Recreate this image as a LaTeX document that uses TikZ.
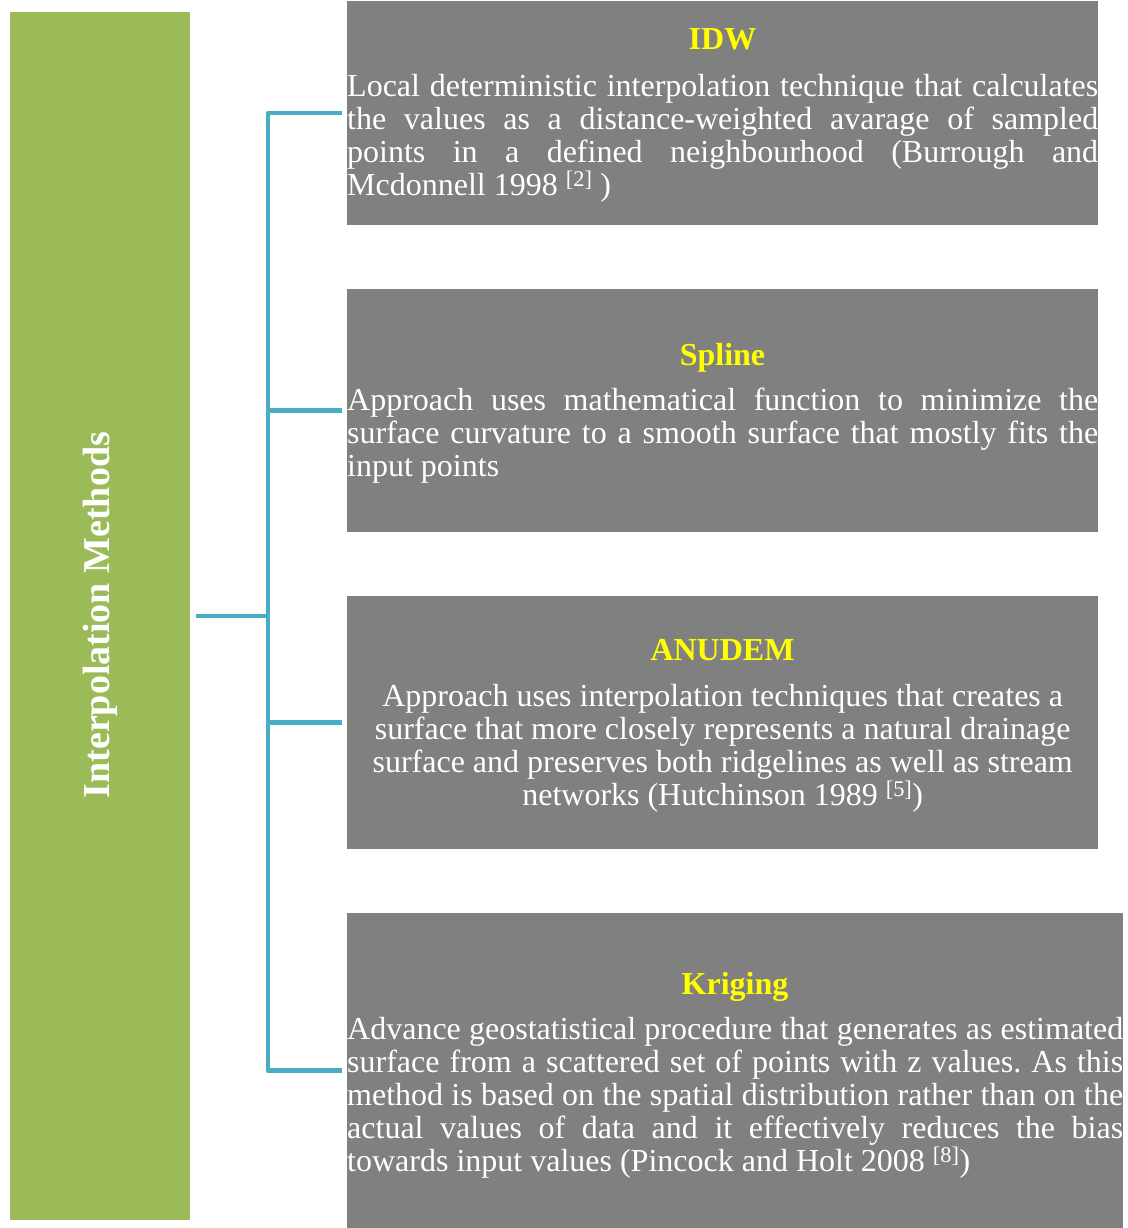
\documentclass[tikz,border=0pt]{standalone}
\usepackage{fontspec}
\setmainfont{Liberation Serif}
\frenchspacing
\definecolor{mgreen}{HTML}{9BBB59}
\definecolor{mteal}{HTML}{4BACC6}
\definecolor{mgray}{HTML}{808080}
\definecolor{myellow}{HTML}{FFFF00}
% justified full line / natural line (font interword glue)
\newcommand\jl[1]{\makebox[\hsize][s]{\frenchspacing\spaceskip=0pt\xspaceskip=0pt\relax #1}\\}
\newcommand\nl[1]{\mbox{\frenchspacing\spaceskip=0pt\xspaceskip=0pt\relax #1}}
\tikzset{
  graybox/.style={fill=mgray, draw=none, inner sep=0pt, anchor=north west},
  ttl/.style={text=myellow, font=\fontsize{32}{34}\selectfont\bfseries, inner sep=0pt, anchor=base},
  body/.style={text=white, font=\fontsize{32}{33}\selectfont, inner sep=0pt, anchor=north west, align=left},
  conn/.style={draw=mteal, line width=4.5pt, line join=round, line cap=butt},
}
\begin{document}
\begin{tikzpicture}[x=1pt,y=-1pt]
\useasboundingbox[fill=white] (0,0) rectangle (1127,1228);
% left green box
\node[fill=mgreen, inner sep=0pt, minimum width=180pt, minimum height=1208pt, anchor=north west] (main) at (10,12) {};
\node[rotate=90, text=white, font=\fontsize{38}{40}\selectfont\bfseries, inner sep=0pt] (mainlabel) at ([yshift=1pt]main.center) {\nl{Interpolation Methods}};
% gray boxes
\node[graybox, minimum width=751pt, minimum height=224pt] (b1) at (347,1) {};
\node[graybox, minimum width=751pt, minimum height=243pt] (b2) at (347,289) {};
\node[graybox, minimum width=751pt, minimum height=253pt] (b3) at (347,596) {};
\node[graybox, minimum width=776pt, minimum height=315pt] (b4) at (347,913) {};
% titles
\node[ttl] (t1) at (722.5,50) {IDW};
\node[ttl] (t2) at (722.5,365) {Spline};
\node[ttl] (t3) at (722.5,660) {ANUDEM};
\node[ttl] (t4) at (735,994) {Kriging};
% texts
\node[body, text width=751pt] (p1) at (347,72.9) {\strut\jl{Local deterministic interpolation technique that calculates}\jl{the values as a distance-weighted avarage of sampled}\jl{points in a defined neighbourhood (Burrough and}\nl{Mcdonnell 1998 \textsuperscript{[2]} )}};
\node[body, text width=751pt] (p2) at (347,386.9) {\strut\jl{Approach uses mathematical function to minimize the}\jl{surface curvature to a smooth surface that mostly fits the}\nl{input points}};
\node[body, text width=751pt, align=center] (p3) at (347,682.9) {\strut\nl{Approach uses interpolation techniques that creates a}\\\nl{surface that more closely represents a natural drainage}\\\nl{surface and preserves both ridgelines as well as stream}\\\nl{networks (Hutchinson 1989 \textsuperscript{[5]})}};
\node[body, text width=776pt] (p4) at (347,1015.9) {\strut\jl{Advance geostatistical procedure that generates as estimated}\jl{surface from a scattered set of points with z values. As this}\jl{method is based on the spatial distribution rather than on the}\jl{actual values of data and it effectively reduces the bias}\nl{towards input values (Pincock and Holt 2008 \textsuperscript{[8]})}};
% connectors
\coordinate (tx) at (268,0);
\draw[conn] ([xshift=-5pt]b1.west) -- (tx |- b1.west) -- (tx |- b4.west) -- ([xshift=-5pt]b4.west);
\draw[conn] ([xshift=-5pt]b2.west) -- (tx |- b2.west);
\draw[conn] ([xshift=-5pt]b3.west) -- (tx |- b3.west);
\draw[conn] ([xshift=6pt]main.east) -- (tx |- main.east);
\end{tikzpicture}
\end{document}
